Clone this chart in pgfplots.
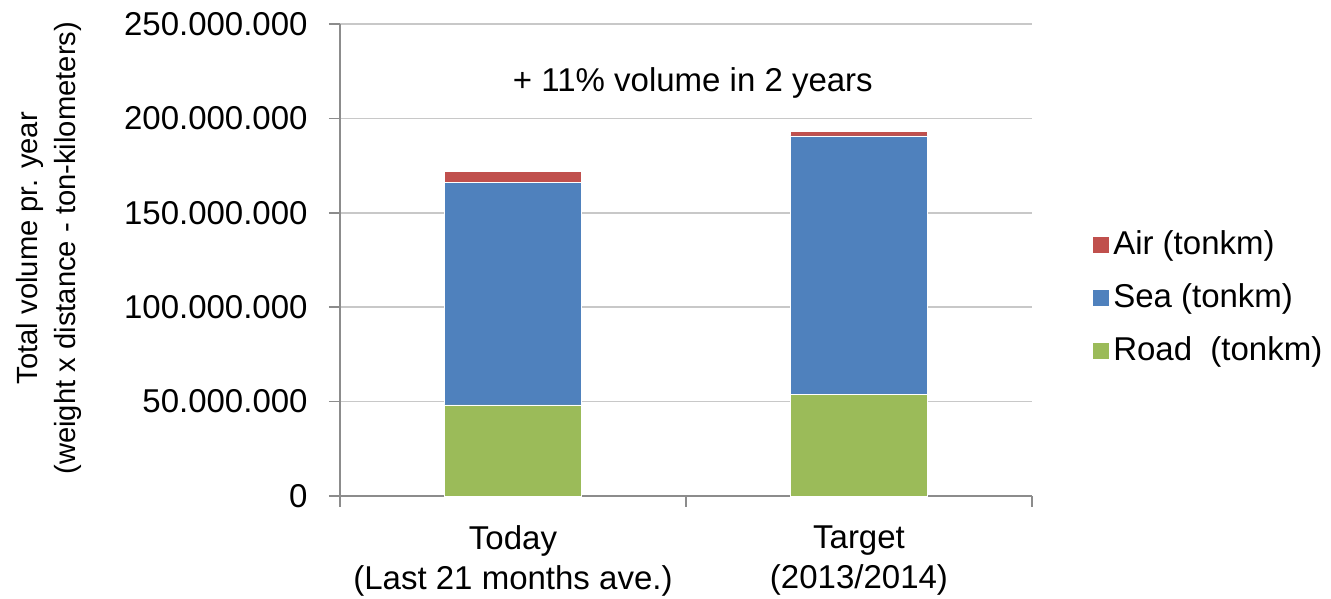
\documentclass[border=0pt]{standalone}
\usepackage{fontspec}
\setmainfont{Liberation Sans}
\usepackage{pgfplots}
\pgfplotsset{compat=1.18}
\definecolor{airred}{HTML}{C0504D}
\definecolor{seablue}{HTML}{4F81BD}
\definecolor{roadgreen}{HTML}{9BBB59}
\definecolor{gridgray}{HTML}{C8C8C8}
\definecolor{axgray}{HTML}{8C8C8C}
\begin{document}
\fontsize{16.5}{20}\selectfont
\begin{tikzpicture}
\begin{axis}[
  scale only axis,
  width=346pt, height=236pt,
  ybar stacked,
  bar width=68.5pt,
  xmin=-0.5, xmax=1.5,
  ymin=0, ymax=250000000,
  ytick={0,50000000,100000000,150000000,200000000,250000000},
  scaled y ticks=false,
  /pgf/number format/fixed,
  /pgf/number format/precision=0,
  /pgf/number format/1000 sep={.},
  /pgf/number format/assume math mode=true,
  yticklabel style={font=\fontsize{16.5}{20}\selectfont, xshift=-5pt},
  ymajorgrids,
  grid style={gridgray, line width=0.8pt},
  axis x line*=bottom,
  axis y line*=left,
  axis line style={axgray, line width=0.8pt, -},
  every tick/.style={axgray, line width=0.8pt},
  tick align=outside,
  major tick length=5.5pt,
  xtick={-0.5,0.5,1.5},
  xticklabels={},
  extra x ticks={0,1},
  extra x tick labels={{Today\\(Last 21 months ave.)},{Target\\(2013/2014)}},
  extra x tick style={grid=none, major tick length=0pt,
    xticklabel style={align=center, font=\fontsize{16.5}{20}\selectfont, yshift=-9pt}},
  ylabel={Total volume pr. year\\(weight x distance - ton-kilometers)},
  ylabel style={align=center, font=\fontsize{14.6}{19}\selectfont, at={(ticklabel cs:0.525)}, yshift=10pt},
  reverse legend,
  legend style={at={(1.077,0.42)}, anchor=west, draw=none, fill=none,
    font=\fontsize{16.5}{20}\selectfont, row sep=8pt,
    /tikz/every even column/.append style={column sep=3pt}},
  legend cell align=left,
  legend image code/.code={\fill[#1] (0pt,-4.25pt) rectangle (8.5pt,4.25pt);},
  clip=false,
]
\addplot[fill=roadgreen, draw=white, line width=0.3pt] coordinates {(0,48200000) (1,54000000)};
\addlegendentry{Road\ \ (tonkm)}
\addplot[fill=seablue, draw=white, line width=0.3pt] coordinates {(0,117700000) (1,136700000)};
\addlegendentry{Sea (tonkm)}
\addplot[fill=airred, draw=white, line width=0.3pt] coordinates {(0,5900000) (1,2500000)};
\addlegendentry{Air (tonkm)}
\node[font=\fontsize{16.5}{20}\selectfont] at (axis cs:0.52,218750000) {+ 11\% volume in 2 years};
\coordinate (BL) at (rel axis cs:-0.4913,-0.2182);
\coordinate (TR) at (rel axis cs:1.4321,1.0508);
\end{axis}
\pgfresetboundingbox
\path[use as bounding box] (BL) rectangle (TR);
\end{tikzpicture}
\end{document}
